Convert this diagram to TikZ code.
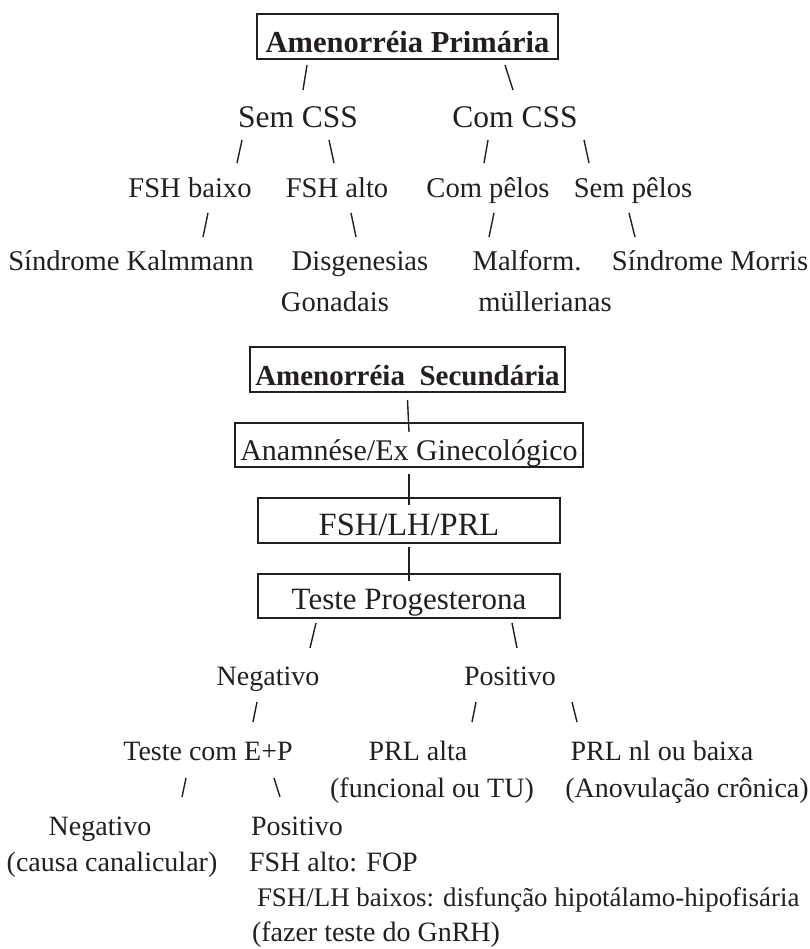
\documentclass[tikz,border=0pt]{standalone}
\usepackage{fontspec}
\setmainfont{Liberation Serif}
\definecolor{ink}{HTML}{231F20}
\newcommand\slashmark[5]{% name, top x, top y, bottom x, bottom y
  \coordinate (#1-top) at (#2,#3);
  \coordinate (#1-bot) at (#4,#5);
  \draw[tick] (#1-top) -- (#1-bot);}
\begin{document}
\begin{tikzpicture}[x=1pt,y=-1pt,
  every node/.style={inner sep=0pt,outer sep=0pt,text=ink},
  title/.style={font=\fontsize{31.5}{36}\selectfont,anchor=base},
  leaf/.style={font=\fontsize{28.6}{34}\selectfont,anchor=base},
  note/.style={font=\fontsize{28}{34}\selectfont,anchor=base},
  notel/.style={note,anchor=base west},
  framed/.style={draw=ink,line width=1.1pt,anchor=base,align=center},
  tick/.style={draw=ink,line width=1.4pt},
  link/.style={draw=ink,line width=1.4pt}]
\useasboundingbox (0,0) rectangle (809,949);

% ---------- primary amenorrhoea ----------
\node[framed,minimum width=301pt,text height=39pt,text depth=6pt,
      font=\fontsize{30.5}{36}\selectfont\bfseries] (prim) at (407.5,53) {Amenorréia Primária};

\slashmark{p1}{307}{65}{303}{90}
\slashmark{p2}{505}{65}{513}{90}

\node[title] (sem) at (298,128) {Sem CSS};
\node[title] (com) at (515,128) {Com CSS};

\slashmark{s1}{242}{140}{237}{163}
\slashmark{s2}{329}{140}{334}{163}
\slashmark{s3}{488}{140}{484}{163}
\slashmark{s4}{584}{140}{589}{163}

\node[leaf] (fshb) at (190,198) {FSH baixo};
\node[leaf] (fsha) at (337,198) {FSH alto};
\node[leaf] (cpel) at (488,198) {Com pêlos};
\node[leaf] (spel) at (633,198) {Sem pêlos};

\slashmark{f1}{208}{213}{203}{237}
\slashmark{f2}{351}{213}{356}{237}
\slashmark{f3}{494}{213}{489}{237}
\slashmark{f4}{629}{213}{635}{237}

\node[leaf] (kal) at (131,271) {Síndrome Kalmmann};
\node[leaf] (dis) at (360,271) {Disgenesias};
\node[leaf] (gon) at (335,311) {Gonadais};
\node[leaf] (mal) at (527,271) {Malform.};
\node[leaf] (mul) at (545,311) {müllerianas};
\node[leaf] (mor) at (710,271) {Síndrome Morris};

% ---------- secondary amenorrhoea ----------
\node[framed,minimum width=315pt,text height=38pt,text depth=7pt,
      font=\fontsize{29}{34}\selectfont\bfseries] (sec) at (407.5,385) {Amenorréia~ Secundária};
\node[framed,minimum width=348pt,text height=37pt,text depth=7pt,
      font=\fontsize{30}{36}\selectfont] (anam) at (409,460) {Anamnése/Ex Ginecológico};
\node[framed,minimum width=302pt,text height=37pt,text depth=8pt,
      font=\fontsize{32.5}{38}\selectfont] (horm) at (409,535) {FSH/LH/PRL};
\node[framed,minimum width=302pt,text height=35pt,text depth=9pt,
      font=\fontsize{31}{36}\selectfont] (prog) at (409,609) {Teste Progesterona};

\draw[link] ([yshift=-8pt]sec.south) -- ([yshift=-9pt]anam.north);
\draw[link] ([yshift=-7pt]anam.south) -- ([yshift=-7pt]horm.north);
\draw[link] ([yshift=-4pt]horm.south) -- ([yshift=-7pt]prog.north);

\slashmark{t1}{316}{623}{310}{648}
\slashmark{t2}{512}{623}{517}{648}

\node[note] (neg) at (268,685) {Negativo};
\node[note] (pos) at (510,685) {Positivo};

\slashmark{n1}{257}{702}{253}{722}
\slashmark{n2}{476}{702}{472}{722}
\slashmark{n3}{572}{702}{577}{722}

\node[note] (ep)    at (208,760) {Teste com E+P};
\node[note] (prla)  at (418,760) {PRL alta};
\node[note] (func)  at (432,797) {(funcional ou TU)};
\node[note] (prln)  at (662,760) {PRL nl ou baixa};
\node[note] (anov)  at (687,797) {(Anovulação crônica)};

\slashmark{e1}{186}{778}{182}{797}
\slashmark{e2}{274}{778}{280}{797}

\node[note]  (neg2)  at (100,835) {Negativo};
\node[note]  (canal) at (112,871) {(causa canalicular)};
\node[notel] (pos2)  at (251,835) {Positivo};
\node[notel] (fop)   at (249,871) {FSH alto: FOP};
\node[notel,font=\fontsize{26.9}{34}\selectfont] (hipo) at (257,906) {FSH/LH baixos: disfunção hipotálamo-hipofisária};
\node[notel] (gnrh)  at (252,941) {(fazer teste do GnRH)};
\end{tikzpicture}
\end{document}
